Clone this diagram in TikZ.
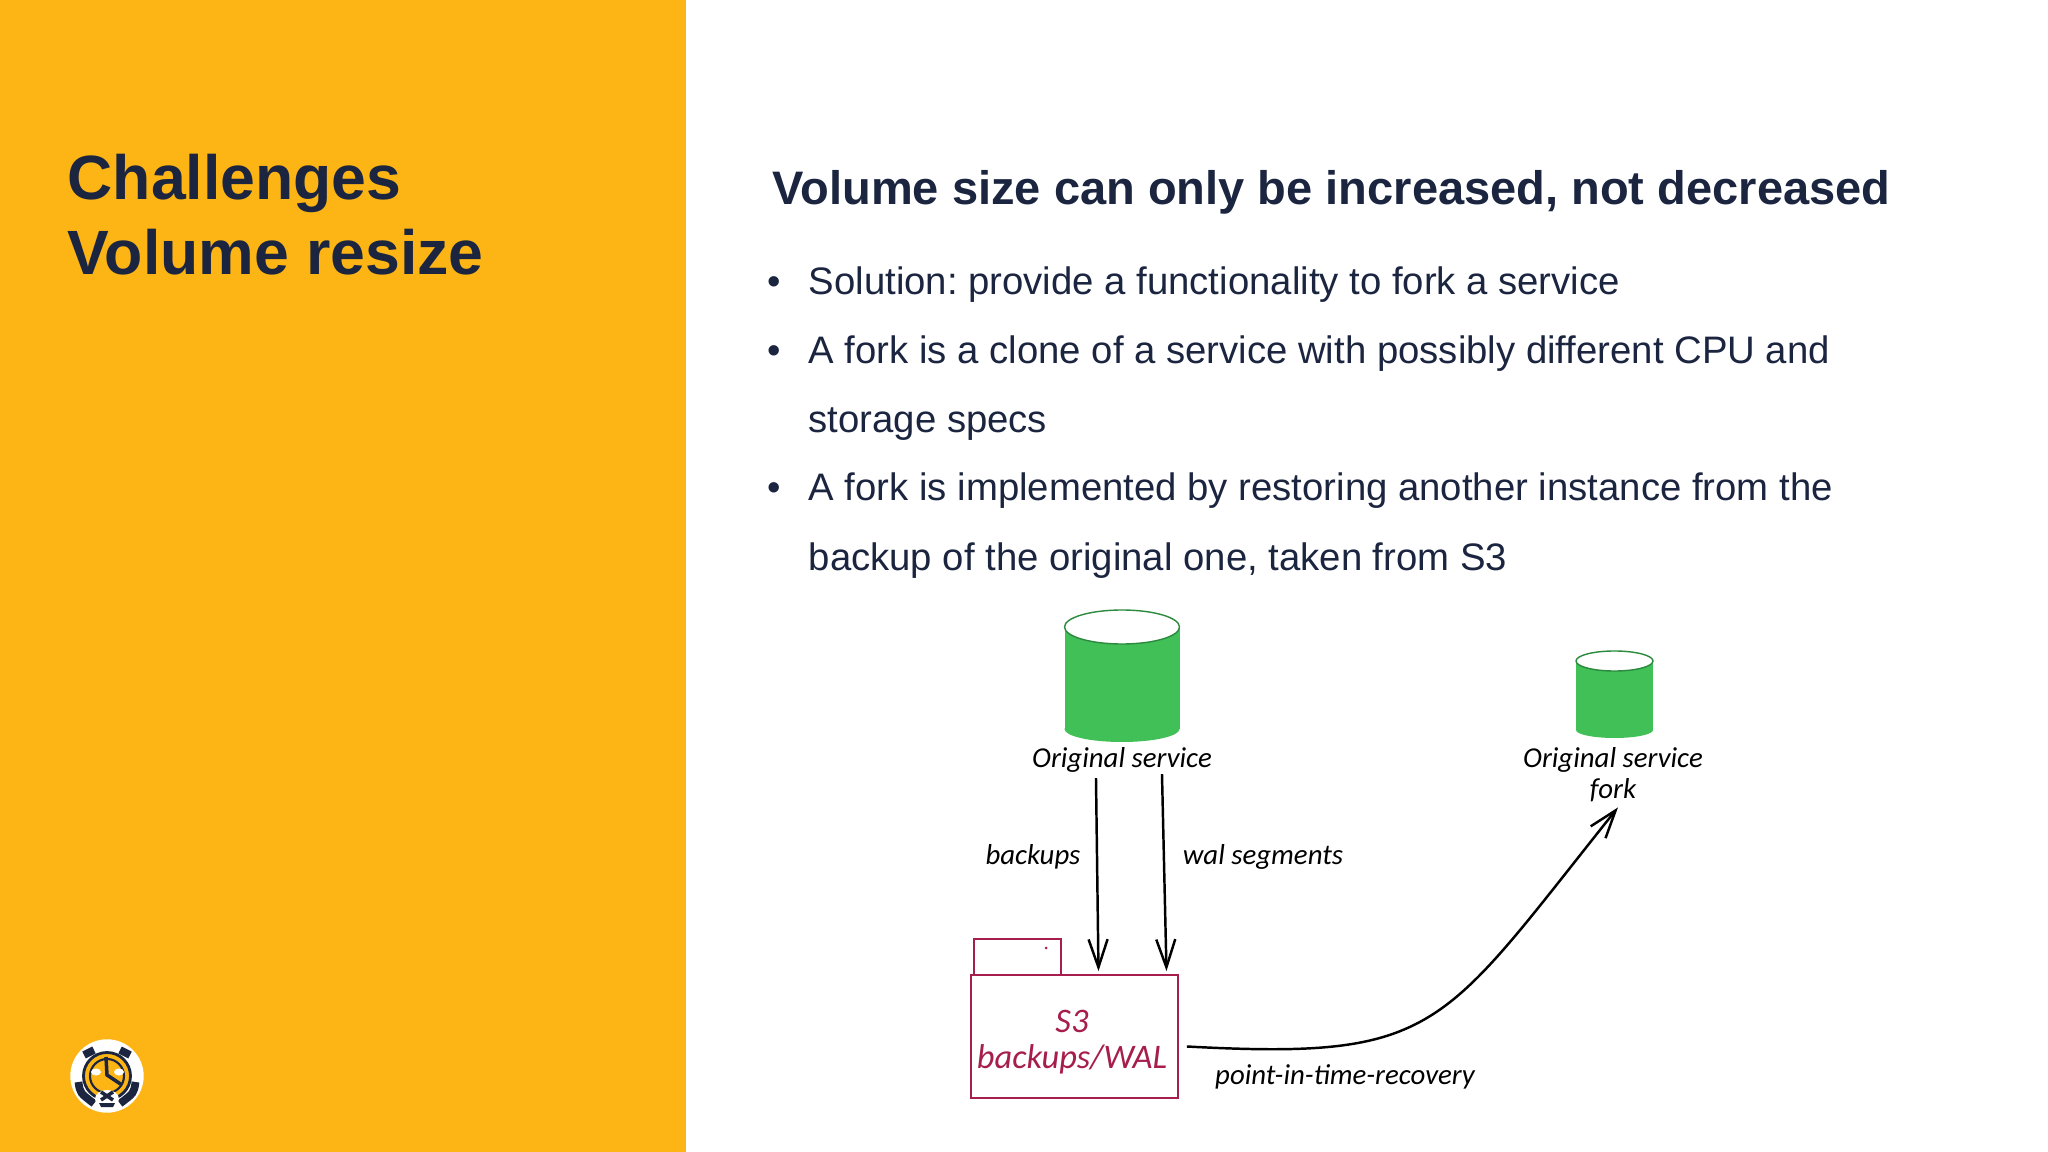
\documentclass[tikz,border=0pt]{standalone}
\usepackage{fontspec}
\setmainfont{Liberation Sans}
\newfontfamily\handfont{Carlito}
\usetikzlibrary{arrows.meta}
\definecolor{panelyellow}{HTML}{FDB515}
\definecolor{inkblue}{HTML}{1B2540}
\definecolor{dbgreen}{HTML}{40C057}
\definecolor{dbedge}{HTML}{2B8A3E}
\definecolor{boxred}{HTML}{A61E4D}
\tikzset{
  titletext/.style={anchor=base west, inner sep=0pt, text=inkblue, font=\fontsize{17.8}{22}\selectfont\bfseries},
  headtext/.style={anchor=base west, inner sep=0pt, text=inkblue, font=\fontsize{13.38}{16}\selectfont\bfseries},
  bodytext/.style={anchor=base west, inner sep=0pt, text=inkblue, font=\fontsize{10.9}{14}\selectfont},
  hand/.style={inner sep=0pt, text=black, font=\fontsize{8.2}{10}\selectfont\handfont\itshape},
  handred/.style={inner sep=0pt, text=boxred, font=\fontsize{9.8}{11}\selectfont\handfont\itshape},
  dbtop/.style={fill=white, draw=dbedge, line width=0.4pt},
  sthreebox/.style={draw=boxred, line width=0.5pt, fill=white, inner sep=0pt}
}
\begin{document}
\frenchspacing
\begin{tikzpicture}[y=-1cm, >={Straight Barb[length=2.8mm,width=1.9mm]}]
\useasboundingbox (0,0) rectangle (20.48,11.52);
\fill[panelyellow] (0,0) rectangle (6.86,11.52);
% left panel
\node(T1)[titletext] at (0.67,2.00){Challenges};
\node(T2)[titletext] at (0.67,2.75){Volume resize};
% logo
\begin{scope}[shift={(1.07,10.76)}]
  \fill[white] (0,0) circle (0.367);
  \fill[panelyellow] (0,0) circle (0.235);
  \draw[inkblue, line width=0.8pt] (0,0) circle (0.235);
  \draw[inkblue, line width=0.6pt] (0,0) circle (0.17);
  \draw[inkblue, line width=2.2pt] (-0.23,-0.21) -- (-0.13,-0.26);
  \draw[inkblue, line width=2.2pt] (0.23,-0.21) -- (0.13,-0.26);
  \draw[inkblue, line width=2.2pt] (-0.285,0.06) .. controls (-0.27,0.17) .. (-0.13,0.275);
  \draw[inkblue, line width=2.2pt] (0.285,0.06) .. controls (0.27,0.17) .. (0.13,0.275);
  \fill[white] (-0.11,-0.04) ellipse (0.05 and 0.035);
  \fill[white] (0.12,-0.04) ellipse (0.05 and 0.035);
  \fill[white] (0,0.23) ellipse (0.12 and 0.09);
  \draw[inkblue, line width=1pt] (-0.01,-0.19) -- (0,-0.01) -- (0.15,0.09);
  \draw[inkblue, line width=1pt] (-0.06,0.16) -- (0.06,0.24) (0.06,0.16) -- (-0.06,0.24);
  \fill[inkblue] (-0.08,0.27) -- (0.08,0.27) -- (0.06,0.31) -- (-0.06,0.31) -- cycle;
\end{scope}
% right text
\node(H)[headtext] at (7.72,2.05){Volume size can only be increased, not decreased};
\node(B1)[bodytext] at (7.67,2.95){\textbullet};
\node(L1)[bodytext] at (8.08,2.95){Solution: provide a functionality to fork a service};
\node(B2)[bodytext] at (7.67,3.64){\textbullet};
\node(L2)[bodytext] at (8.08,3.64){A fork is a clone of a service with possibly different CPU and};
\node(L3)[bodytext] at (8.08,4.33){storage specs};
\node(B3)[bodytext] at (7.67,5.01){\textbullet};
\node(L4)[bodytext] at (8.08,5.01){A fork is implemented by restoring another instance from the};
\node(L5)[bodytext] at (8.08,5.71){backup of the original one, taken from S3};
% sketch
\fill[dbgreen] (10.645,6.27) rectangle (11.795,7.29);
\fill[dbgreen] (11.22,7.29) ellipse (0.575 and 0.13);
\draw[dbtop] (11.22,6.27) ellipse (0.575 and 0.17);
\fill[dbgreen] (15.76,6.61) rectangle (16.53,7.30);
\fill[dbgreen] (16.145,7.30) ellipse (0.385 and 0.08);
\draw[dbtop] (16.145,6.61) ellipse (0.385 and 0.10);
\node(LblA)[hand] at (11.22,7.60){Original service};
\node(LblB)[hand] at (16.13,7.60){Original service};
\node(LblC)[hand] at (16.13,7.90){fork};
\node(Tab)[sthreebox, minimum width=0.87cm, minimum height=0.36cm] at (10.175,9.57){};
\fill[boxred] (10.46,9.48) circle (0.015);
\node(S3)[sthreebox, minimum width=2.07cm, minimum height=1.23cm] at (10.745,10.365){};
\node(S3a)[handred] at (10.72,10.21){S3};
\node(S3b)[handred] at (10.72,10.59){backups/WAL};
\node(LblBk)[hand] at (10.33,8.57){backups};
\node(LblWal)[hand] at (12.63,8.57){wal segments};
\node(LblPit)[hand] at (13.45,10.77){point-in-time-recovery};
\draw[->, line width=0.7pt]([xshift=-0.26cm,yshift=-0.05cm]LblA.south)--([xshift=0.24cm,yshift=0.03cm]S3.north);
\draw[->, line width=0.7pt]([xshift=0.40cm,yshift=-0.01cm]LblA.south)--([xshift=0.92cm,yshift=0.03cm]S3.north);
\draw[->, line width=0.7pt]([xshift=0.08cm,yshift=-0.10cm]S3.east) .. controls (14.4,10.6) and (14.4,10.3) .. ([xshift=0.05cm,yshift=-0.05cm]LblC.south);
\end{tikzpicture}
\end{document}
